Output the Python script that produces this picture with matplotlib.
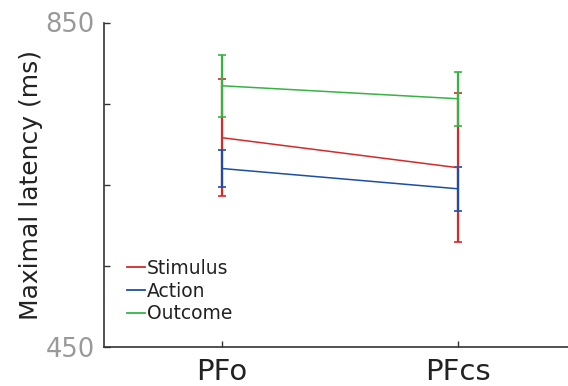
import numpy as np
import matplotlib
matplotlib.use("Agg")
import matplotlib.pyplot as plt
from matplotlib.lines import Line2D

# values
regions = ["PFo", "PFcs"]
stimulus = [708, 671]
stimulus_err = [72, 92]
action = [670, 645]
action_err = [23, 27]
outcome = [772, 756]
outcome_err = [38, 33]

y_ticks = [450, 550, 650, 750, 850]
y_labels = ["450", "", "", "", "850"]

fig = plt.figure(figsize=(5.68, 3.86), dpi=100)
ax = fig.add_axes([104 / 568, 1 - 347 / 386, 472 / 568, 324.5 / 386])

x = np.arange(1, len(regions) + 1)
series = [
    ("Stimulus", stimulus, stimulus_err, "#d42a2a"),
    ("Action", action, action_err, "#1c4ea6"),
    ("Outcome", outcome, outcome_err, "#35b444"),
]
handles = []
for name, vals, err, col in series:
    ax.errorbar(x, vals, yerr=err, color=col, lw=1.1, elinewidth=1.6,
                capsize=3, capthick=1.2)
    handles.append(Line2D([], [], color=col, lw=1.3, label=name))

ax.set_xlim(0.5, 2.5)
ax.set_ylim(450, 850)
ax.set_xticks(x)
ax.set_xticklabels(regions, fontsize=21, color="#222222")
ax.set_yticks(y_ticks)
ax.set_yticklabels(y_labels, fontsize=18.5, color="#999999")
ax.tick_params(direction="in", length=4, width=1, color="#333333", pad=6.5)
ax.tick_params(axis="x", pad=8)
for s in ["top", "right"]:
    ax.spines[s].set_visible(False)
for s in ["left", "bottom"]:
    ax.spines[s].set_color("#333333")
    ax.spines[s].set_linewidth(1.2)
ax.set_ylabel("Maximal latency (ms)", fontsize=18, color="#222222", labelpad=2)

leg = ax.legend(handles=handles, loc="lower left", bbox_to_anchor=(0.033, 0.05),
                frameon=False, fontsize=13.5, handlelength=0.95,
                handletextpad=0.12, labelspacing=0.2, borderaxespad=0)
for t in leg.get_texts():
    t.set_color("#222222")

fig.savefig("out.png", dpi=100)
